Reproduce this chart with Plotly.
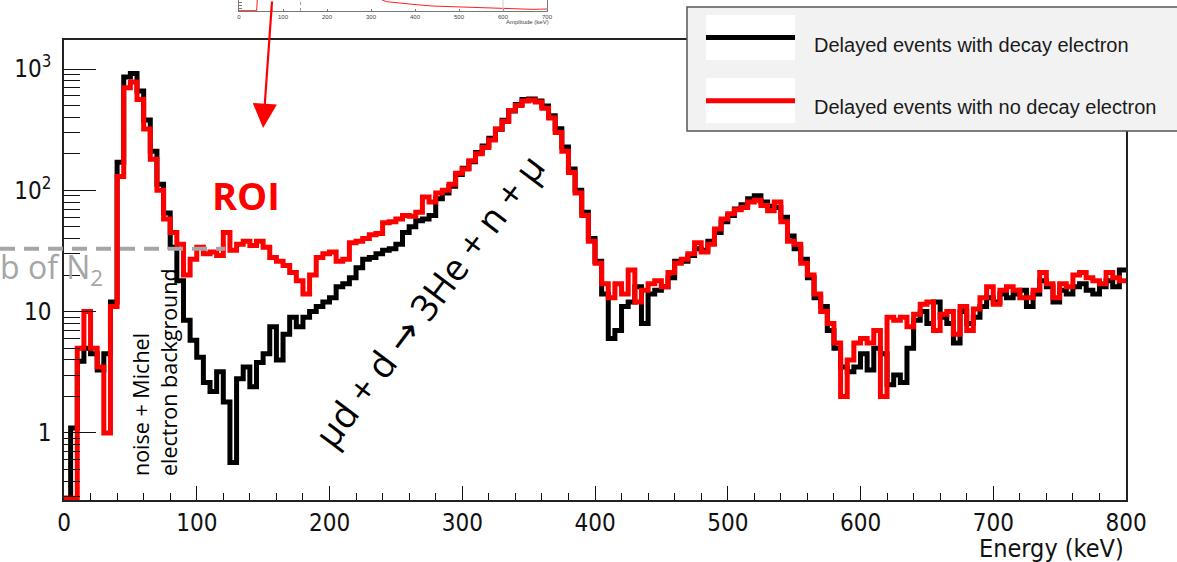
import numpy as np
import plotly.graph_objects as go

# ---------------- data ----------------
energy_edges_keV = list(range(0, 805, 5))  # 160 bins of 5 keV

counts_with_decay_e = [
    0.29, 1.1, 3.9, 5.0, 4.5, 3.3, 4.5, 12, 170, 860,
    920, 660, 380, 210, 112, 65, 34, 18, 8.5, 5.8,
    4.2, 2.6, 2.2, 3.2, 1.8, 0.57, 2.8, 3.5, 2.4, 3.8,
    4.5, 7.5, 4.0, 6.5, 9, 7.5, 9, 10, 11, 12,
    13, 16, 17, 19, 23, 27, 28, 30, 32, 33,
    36, 45, 50, 56, 58, 62, 85, 95, 108, 135,
    152, 172, 205, 232, 268, 318, 378, 450, 510, 560,
    565, 545, 495, 412, 322, 228, 150, 100, 66, 40,
    26, 14, 6, 7, 11, 12, 16, 8, 14, 15,
    16, 19, 26, 26, 29, 33, 32, 38, 45, 55,
    62, 70, 76, 85, 90, 80, 74, 72, 60, 42,
    33, 27, 19, 13, 11, 7, 5, 3.5, 3.2, 3.5,
    4.5, 3.3, 5, 4.5, 2.5, 3, 2.6, 5, 8.5, 10,
    8, 12, 9, 8, 5.5, 10, 8, 9, 11, 13,
    12, 14, 13, 14, 15, 11, 14, 18, 16, 12,
    15, 14, 16, 17, 15, 14, 16, 18, 16, 22,
]

counts_no_decay_e = [
    0.29, 0.29, 5.0, 10, 5.0, 3.5, 1.0, 11, 130, 700,
    780, 560, 320, 180, 100, 58, 45, 36, 20, 27,
    34, 30, 31, 29, 45, 32, 36, 38, 35, 38,
    34, 28, 26, 24, 21, 18, 14, 20, 28, 30,
    31, 26, 27, 37, 38, 40, 43, 44, 54, 55,
    58, 62, 61, 66, 88, 80, 95, 100, 112, 138,
    150, 175, 200, 225, 260, 320, 370, 455, 500, 545,
    555, 535, 475, 395, 300, 210, 140, 95, 62, 38,
    25, 17, 13, 17, 14, 22, 12, 15, 17, 18,
    16, 21, 25, 27, 30, 37, 31, 36, 48, 58,
    64, 69, 72, 80, 83, 75, 68, 80, 55, 38,
    36, 25, 20, 14, 10, 8, 5.5, 2.0, 4.0, 5.5,
    6, 5.5, 7, 2.0, 9, 8.5, 9, 7.5, 9.5, 11.5,
    12, 7, 9.5, 10, 6.5, 11, 7, 10.5, 13, 16,
    11.5, 15, 16, 15, 13, 13, 15, 21, 17, 13,
    17, 16, 20, 21, 19, 18, 17, 21, 19, 18,
]

# small inset (only its bottom strip is visible at the top of the slide)
inset_amplitude_keV = [0, 40, 45, 50, 320, 335, 366, 404, 441, 480, 517, 555, 593, 630, 668, 700]
inset_level = [0.03, 0.03, 3.0, 3.0, 1.1, 0.85, 0.70, 0.57, 0.45, 0.40, 0.34, 0.30, 0.25, 0.20, 0.15, 0.18]
inset_ticks = [0, 100, 200, 300, 400, 500, 600, 700]
inset_roi_lines = [75, 140]

x_tick_vals = [0, 100, 200, 300, 400, 500, 600, 700, 800]
y_tick_vals = [1, 10, 100, 1000]
y_tick_text = ["1", "10", "10<sup>2</sup>", "10<sup>3</sup>"]
legend_labels = ["Delayed events with decay electron",
                 "Delayed events with no decay electron"]
series_colors = ["#000000", "#ff0000"]
n2_level = 33          # counts level of the grey dashed line
roi_arrow_tip = (150, 327)

# ---------------- geometry helpers ----------------
W, H = 1177, 562
ML, MR, MT, MB = 64, 51, 0, 62
PW, PH = W - ML - MR, H - MT - MB


def pxx(px):
    return (px - ML) / PW


def pxy(py):
    return (H - MB - py) / PH


NARROW = "DejaVu Sans Condensed, Liberation Sans Narrow, sans-serif"

fig = go.Figure()

for vals, col, name in zip([counts_with_decay_e, counts_no_decay_e], series_colors, legend_labels):
    fig.add_trace(go.Scatter(
        x=energy_edges_keV, y=vals + [vals[-1]], mode="lines", name=name,
        line=dict(color=col, width=5, shape="hv"), showlegend=False,
        hoverinfo="skip"))

fig.add_trace(go.Scatter(
    x=inset_amplitude_keV, y=inset_level, mode="lines", xaxis="x2", yaxis="y2",
    line=dict(color="#ff2020", width=1), showlegend=False, hoverinfo="skip"))

minor_y = [m * 10.0 ** d for d in (-1, 0, 1, 2) for m in range(2, 10) if m * 10.0 ** d > 0.28]

fig.update_layout(
    width=W, height=H,
    margin=dict(l=ML, r=MR, t=MT, b=MB, autoexpand=False),
    paper_bgcolor="white", plot_bgcolor="white",
    xaxis=dict(
        range=[0, 800], domain=[0, 1], showgrid=False, zeroline=False, automargin=False,
        showline=True, linecolor="#222", linewidth=1.5, mirror=True,
        tickvals=x_tick_vals, ticks="inside", ticklen=14, tickwidth=1.2, tickcolor="#111",
        minor=dict(dtick=20, tick0=0, ticks="inside", ticklen=7, tickwidth=1, tickcolor="#111"),
        tickfont=dict(family=NARROW, size=24, color="#111"),
    ),
    yaxis=dict(
        type="log", range=[np.log10(0.28), np.log10(1734)], domain=[0, pxy(40)],
        showgrid=False, zeroline=False, automargin=False,
        showline=True, linecolor="#222", linewidth=1.5, mirror=True,
        tickmode="array", tickvals=y_tick_vals, ticktext=y_tick_text,
        ticks="inside", ticklen=32, tickwidth=1.2, tickcolor="#111",
        minor=dict(tickmode="array", tickvals=minor_y, ticks="inside", ticklen=16,
                   tickwidth=1, tickcolor="#111"),
        tickfont=dict(family=NARROW, size=24, color="#111"),
        ticklabelstandoff=6,
    ),
    xaxis2=dict(
        anchor="y2", domain=[pxx(239), pxx(547)], range=[0, 700], automargin=False,
        showgrid=False, zeroline=False, showline=True, linecolor="#777", linewidth=1,
        tickvals=inset_ticks, ticks="inside", ticklen=2, tickcolor="#777",
        tickfont=dict(family="Liberation Sans", size=6, color="#444"),
    ),
    yaxis2=dict(
        anchor="x2", domain=[pxy(11), 1], range=[0, 1], automargin=False,
        showgrid=False, zeroline=False, showline=True, linecolor="#777", linewidth=1,
        mirror=True, showticklabels=False, ticks="inside", ticklen=3, tickcolor="#777",
        tickvals=[0.25, 0.5, 0.75],
    ),
)

shapes = []
# inset decorations
for xv in inset_roi_lines:
    shapes.append(dict(type="line", xref="x2", yref="y2 domain", x0=xv, x1=xv, y0=0, y1=1,
                       line=dict(color="#999", width=1, dash="dot")))
shapes.append(dict(type="line", xref="x2", yref="y2 domain", x0=600, x1=600, y0=0, y1=1,
                   line=dict(color="#ccc", width=1)))
# grey dashed N2 level
shapes.append(dict(type="line", xref="paper", yref="y", x0=pxx(0), x1=pxx(225),
                   y0=n2_level, y1=n2_level, layer="above",
                   line=dict(color="#a6a6a6", width=4, dash="15px,9px")))
# legend box
shapes.append(dict(type="rect", xref="paper", yref="paper", x0=pxx(687), x1=pxx(1190),
                   y0=pxy(131), y1=pxy(7), layer="above",
                   fillcolor="#f2f2f2", line=dict(color="#555", width=1.5)))
for top, bot, lc, ly in [(15, 60, series_colors[0], 37.5), (78, 123, series_colors[1], 100.7)]:
    shapes.append(dict(type="rect", xref="paper", yref="paper", x0=pxx(706), x1=pxx(795),
                       y0=pxy(bot), y1=pxy(top), layer="above",
                       fillcolor="white", line=dict(width=0)))
    shapes.append(dict(type="line", xref="paper", yref="paper", x0=pxx(706), x1=pxx(795),
                       y0=pxy(ly), y1=pxy(ly), layer="above",
                       line=dict(color=lc, width=5)))
fig.update_layout(shapes=shapes)

ann = []
for lab, py in zip(legend_labels, [45, 106.7]):
    ann.append(dict(text=lab, xref="paper", yref="paper", x=pxx(812), y=pxy(py),
                    xanchor="left", yanchor="middle", showarrow=False,
                    font=dict(family="Liberation Sans, Arial, sans-serif", size=20, color="#1a1a1a")))
ann.append(dict(text="Energy (keV)", xref="paper", yref="paper", x=1, y=pxy(548),
                xanchor="right", yanchor="middle", showarrow=False,
                font=dict(family=NARROW, size=25, color="#111")))
ann.append(dict(text="Amplitude (keV)", xref="paper", yref="paper", x=pxx(527), y=pxy(22),
                xanchor="center", yanchor="middle", showarrow=False,
                font=dict(family="Liberation Sans", size=6, color="#444")))
ann.append(dict(text="", x=roi_arrow_tip[0], y=np.log10(roi_arrow_tip[1]), xref="x", yref="y",
                showarrow=True, ax=9, ay=-128, arrowcolor="#ff0000", arrowwidth=2.2,
                arrowhead=2, arrowsize=2.2))
ann.append(dict(text="<b>ROI</b>", x=137, y=(433 - 195) / 121.3, xref="x", yref="y",
                showarrow=False, xanchor="center", yanchor="middle",
                font=dict(family="Open Sans, sans-serif", size=38, color="#ff0000")))
ann.append(dict(text="b of N<sub>2</sub>", xref="paper", yref="paper", x=pxx(105), y=pxy(269),
                xanchor="right", yanchor="middle", showarrow=False,
                font=dict(family="Open Sans, sans-serif", size=32, color="#a6a6a6")))
ann.append(dict(text="noise + Michel<br>electron background", xref="paper", yref="paper",
                x=pxx(154.5), y=pxy(372.5), xanchor="center", yanchor="middle",
                textangle=-90, align="left", showarrow=False,
                font=dict(family="Open Sans, sans-serif", size=21.5, color="#000")))
ann.append(dict(text="μd + d <span style='font-family:DejaVu Sans'>→</span> 3He + n + μ",
                xref="paper", yref="paper",
                x=pxx(428), y=pxy(300), xanchor="center", yanchor="middle",
                textangle=-53, showarrow=False,
                font=dict(family="Open Sans, sans-serif", size=37, color="#000")))
fig.update_layout(annotations=ann)

fig.write_html("out.html", config={"displayModeBar": False},
               post_script="document.body.style.margin='0px';")
